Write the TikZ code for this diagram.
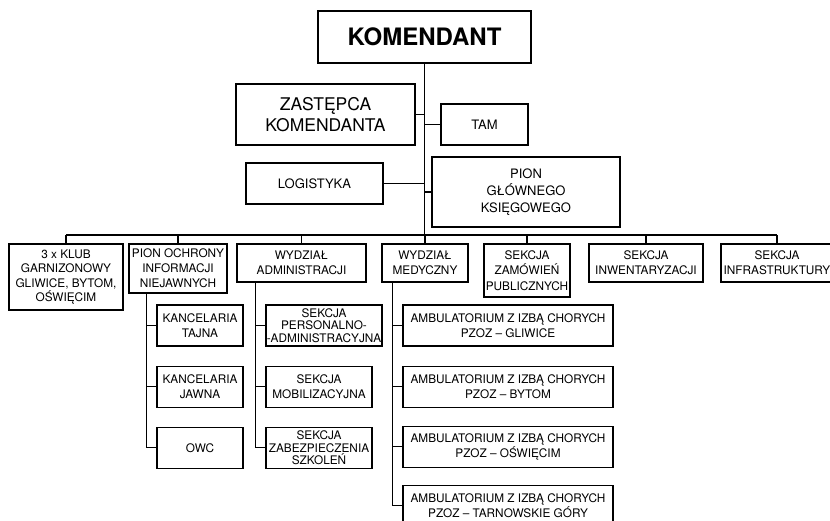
\documentclass[tikz,border=0pt]{standalone}
\usepackage{fontspec}
\setmainfont{TeX Gyre Heros}
\usetikzlibrary{calc,positioning}

\begin{document}
\begin{tikzpicture}
    [x=1pt,y=1pt,line width=1.1pt,
     unit/.style={draw,align=center,inner sep=0pt,font=\fontsize{11.8}{15}\selectfont},
     tight/.style={font=\fontsize{11.8}{12.5}\selectfont},
     mid/.style={unit,minimum height=41pt,font=\fontsize{13}{17}\selectfont},
     sub/.style={unit,minimum height=41pt}]
    \useasboundingbox (0,0) rectangle (830,-521);
    % kierownictwo
    \node (kom) [unit,minimum width=213pt,minimum height=52pt,
      font=\fontsize{24}{28}\selectfont\bfseries] at (424.5,-37) {KOMENDANT};
    \node (zast) [unit,minimum width=179pt,minimum height=61pt,
      font=\fontsize{17.5}{21.5}\selectfont] at (325.5,-114.5) {ZASTĘPCA\\KOMENDANTA};
    \node (tam) [mid,minimum width=87pt] at (484.5,-124.5) {TAM};
    \node (log) [mid,minimum width=137pt] at (314.5,-183.5) {LOGISTYKA};
    \node (pgk) [mid,minimum width=188pt,minimum height=70pt] at (526,-192)
      {PION\\GŁÓWNEGO\\KSIĘGOWEGO};
    \coordinate (bus) at (0,-235);

    % komorki
    \node (klub) [unit,minimum width=114pt,minimum height=66pt,
      font=\fontsize{11.8}{14.4}\selectfont] at (66,-277)
      {3 x KLUB\\GARNIZONOWY\\GLIWICE, BYTOM,\\OŚWIĘCIM};
    \node (poin) [unit,minimum width=98pt,minimum height=49pt] at (178,-268.5)
      {PION OCHRONY\\INFORMACJI\\NIEJAWNYCH};
    \node (wadm) [unit,minimum width=129pt,minimum height=38pt] at (301.5,-263)
      {WYDZIAŁ\\ADMINISTRACJI};
    \node (wmed) [unit,minimum width=86pt,minimum height=38pt] at (425,-263)
      {WYDZIAŁ\\MEDYCZNY};
    \node (szam) [unit,minimum width=86pt,minimum height=53pt,
      font=\fontsize{11.8}{15.7}\selectfont] at (527,-270.5)
      {SEKCJA\\ZAMÓWIEŃ\\PUBLICZNYCH};
    \node (sinw) [unit,minimum width=114pt,minimum height=38pt] at (646,-263)
      {SEKCJA\\INWENTARYZACJI};
    \node (sinf) [unit,minimum width=112pt,minimum height=38pt] at (777,-263)
      {SEKCJA\\INFRASTRUKTURY};

    % podkomorki
    \begin{scope}[node distance=19pt]
      \node (ktaj) [sub,minimum width=86pt] at (200,-325.5) {KANCELARIA\\TAJNA};
      \node (kjaw) [sub,minimum width=86pt,below=of ktaj] {KANCELARIA\\JAWNA};
      \node (owc) [sub,minimum width=86pt,below=of kjaw] {OWC};

      \node (spers) [sub,tight,minimum width=116pt] at (324,-325.5)
        {SEKCJA\\PERSONALNO-\\-ADMINISTRACYJNA};
      \node (smob) [sub,minimum width=106pt,below right=19pt and 0pt of spers.south west]
        {SEKCJA\\MOBILIZACYJNA};
      \node (szab) [sub,tight,minimum width=106pt,below=of smob]
        {SEKCJA\\ZABEZPIECZENIA\\SZKOLEŃ};

      \node (amb1) [sub,minimum width=210pt] at (508,-325.5)
        {AMBULATORIUM Z IZBĄ CHORYCH\\PZOZ – GLIWICE};
      \node (amb2) [sub,minimum width=210pt,below=of amb1]
        {AMBULATORIUM Z IZBĄ CHORYCH\\PZOZ – BYTOM};
      \node (amb3) [sub,minimum width=210pt,below=18pt of amb2]
        {AMBULATORIUM Z IZBĄ CHORYCH\\PZOZ – OŚWIĘCIM};
      \node (amb4) [sub,minimum width=210pt,below=17pt of amb3]
        {AMBULATORIUM Z IZBĄ CHORYCH\\PZOZ – TARNOWSKIE GÓRY};
    \end{scope}

    % polaczenia
    \draw (kom.south) -- (kom.south |- bus);
    \draw (zast.east) -- (zast.east -| kom.south);
    \draw (tam.west -| kom.south) -- (tam.west);
    \draw (log.east) -- (log.east -| kom.south);
    \draw (pgk.west -| kom.south) -- (pgk.west);
    \draw (klub.north |- bus) -- (sinf.north |- bus);
    \foreach \n in {klub,poin,wadm,wmed,szam,sinw,sinf} {
      \draw (\n.north) -- (\n.north |- bus);
    }
    \coordinate (point) at ($(poin.south west)+(18,0)$);
    \coordinate (wadmt) at ($(wadm.south west)+(19,0)$);
    \coordinate (wmedt) at ($(wmed.south west)+(11,0)$);
    \foreach \n in {ktaj,kjaw,owc} {
      \draw (point) |- (\n.west);
    }
    \foreach \n in {spers,smob,szab} {
      \draw (wadmt) |- (\n.west);
    }
    \foreach \n in {amb1,amb2,amb3,amb4} {
      \draw (wmedt) |- (\n.west);
    }
\end{tikzpicture}
\end{document}
